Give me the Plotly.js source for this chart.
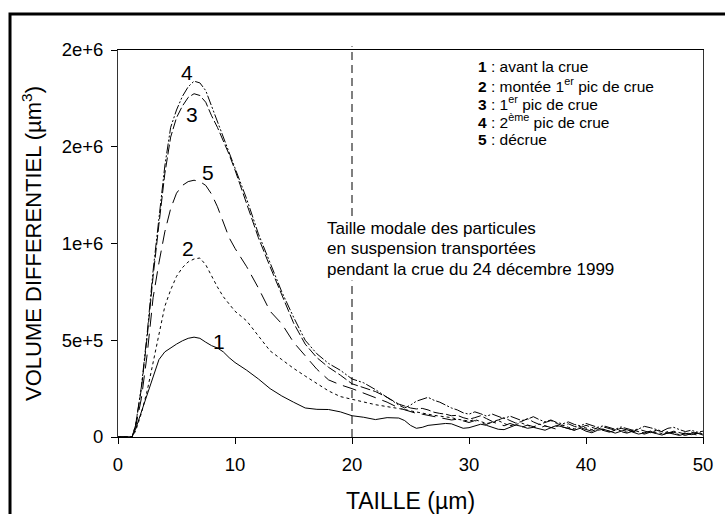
<!DOCTYPE html>
<html>
<head>
<meta charset="utf-8">
<script src="https://cdn.plot.ly/plotly-3.0.1.min.js"></script>
<style>html,body{margin:0;padding:0;background:#fff;}#chart{width:725px;height:514px;}</style>
</head>
<body>
<div id="chart"></div>
<script>
// Particle size (µm): main part of the grid, then the noisy tail
const sizeHead = [0,1.2,1.5,2,2.5,3,3.5,4,4.5,5,5.5,6,6.5,7,7.5,8,8.5,9,9.5,10,11,12,13,14,15,16,17,18,19,20,21,22,23,24];
const sizeTail = [24.5,25,25.5,26,26.5,27,27.5,28,28.5,29,29.5,30,30.5,31,31.5,32,32.5,33,33.5,34,34.5,35,35.5,36,36.5,37,37.5,38,38.5,39,39.5,40,40.5,41,41.5,42,42.5,43,43.5,44,44.5,45,45.5,46,46.5,47,47.5,48,48.5,49,49.5,50];

// Differential volume, in thousands of µm³
const vol1Head = [0,0,40,130,230,320,400,440,462,480,497,510,516,510,490,472,460,440,410,385,345,300,250,212,180,150,143,142,130,110,102,90,100,98];
const vol1Tail = [85,60,45,50,60,63,66,70,68,55,45,48,58,66,60,52,40,38,50,62,55,45,50,42,35,48,60,52,42,35,45,30,22,35,40,28,20,30,38,25,15,22,30,18,10,22,15,8,18,12,20,10];

const vol2Head = [0,0,30,123,240,390,540,675,760,830,875,905,920,925,890,830,775,725,685,650,600,520,445,400,355,315,275,238,209,195,180,167,157,148];
const vol2Tail = [142,135,128,122,118,112,108,104,100,92,88,82,90,78,70,75,85,70,58,65,72,60,52,66,58,48,55,62,50,42,55,45,38,48,40,30,38,32,25,35,28,20,30,25,18,28,20,12,22,15,25,15];

const vol3Head = [0,0,60,250,520,830,1100,1360,1550,1650,1710,1755,1774,1765,1730,1660,1600,1530,1460,1380,1200,1030,880,730,590,480,410,360,320,275,255,235,205,170];
const vol3Tail = [160,150,145,148,140,128,122,118,110,112,100,92,100,110,95,80,88,100,85,72,80,95,78,65,75,85,70,58,68,55,48,60,50,40,52,45,35,45,38,28,40,30,22,35,28,20,30,22,15,25,18,22];

const vol4Head = [0,0,60,260,540,860,1130,1400,1600,1690,1760,1810,1839,1830,1790,1710,1630,1550,1480,1390,1230,1050,900,750,620,500,430,380,345,300,280,245,205,165];
const vol4Tail = [150,165,185,195,205,190,180,165,150,140,125,118,130,120,108,118,105,95,108,98,85,92,105,90,78,88,75,68,78,65,58,70,60,50,58,48,40,52,45,35,42,55,48,38,30,45,50,38,28,35,25,30];

const vol5Head = [0,0,50,200,430,720,900,1060,1180,1260,1300,1320,1327,1320,1300,1255,1190,1110,1030,975,880,770,650,585,490,420,350,295,270,250,228,205,180,150];
const vol5Tail = [140,130,122,118,112,108,100,95,88,92,82,75,85,72,65,78,68,58,70,60,50,62,55,45,58,50,40,52,45,35,48,40,30,42,35,25,35,28,20,30,22,15,25,18,12,20,25,15,8,18,10,15];

const seriesNames = ["1","2","3","4","5"];
const legendLabels = [
  "<b>1</b> : avant la crue",
  "<b>2</b> : montée 1<sup>er</sup> pic de crue",
  "<b>3</b> : 1<sup>er</sup> pic de crue",
  "<b>4</b> : 2<sup>ème</sup> pic de crue",
  "<b>5</b> : décrue"
];
const noteLines = [
  "Taille modale des particules",
  "en suspension transportées",
  "pendant la crue du 24 décembre 1999"
];
// curve label anchors (size µm, volume in thousands)
const labelX = [8.6, 6.0, 6.3, 5.9, 7.7];
const labelY = [493, 972, 1667, 1882, 1365];

const yTickVals = [0, 500000, 1000000, 1500000, 2000000];
const yTickText = ["0", "5e+5", "1e+6", "2e+6", "2e+6"];
const xTickVals = [0, 10, 20, 30, 40, 50];
const modalSize = 20;

const sizes = sizeHead.concat(sizeTail);
const toUnits = arr => arr.map(v => v * 1000);
const vols = [
  toUnits(vol1Head.concat(vol1Tail)),
  toUnits(vol2Head.concat(vol2Tail)),
  toUnits(vol3Head.concat(vol3Tail)),
  toUnits(vol4Head.concat(vol4Tail)),
  toUnits(vol5Head.concat(vol5Tail))
];
const dashes = ["solid", "dot", "10px,3px", "10px,2px,2px,2px,2px,2px", "14px,7px"];

const traces = vols.map((v, i) => ({
  x: sizes, y: v, type: "scatter", mode: "lines", name: seriesNames[i],
  line: {color: "#000", width: 1, dash: dashes[i]}, showlegend: false
}));

const FONT = "Liberation Sans, Arial, sans-serif";
const annotations = [];
seriesNames.forEach((n, i) => {
  annotations.push({x: labelX[i], y: labelY[i] * 1000, xref: "x", yref: "y", text: n,
    showarrow: false, font: {family: FONT, size: 21, color: "#000"}});
});
legendLabels.forEach((t, i) => {
  annotations.push({x: 0.612, y: 0.958 - i * 0.0475, xref: "paper", yref: "paper", text: t,
    xanchor: "left", yanchor: "middle", align: "left", showarrow: false,
    font: {family: FONT, size: 15.5, color: "#000"}});
});
noteLines.forEach((t, i) => {
  annotations.push({x: 0.353, y: 0.5375 - i * 0.0517, xref: "paper", yref: "paper",
    xanchor: "left", yanchor: "middle", align: "left", text: t,
    showarrow: false, bgcolor: "#fff", borderpad: 1,
    font: {family: FONT, size: 17, color: "#000"}});
});

const layout = {
  width: 725, height: 514,
  margin: {l: 118, r: 22, t: 50, b: 77},
  paper_bgcolor: "#fff", plot_bgcolor: "#fff",
  font: {family: FONT, color: "#000"},
  xaxis: {
    range: [0, 50], tickvals: xTickVals, ticks: "outside", ticklen: 6, tickcolor: "#000",
    showline: true, linecolor: "#000", linewidth: 1, mirror: true, showgrid: false, zeroline: false,
    tickfont: {family: FONT, size: 18.5}, ticklabelstandoff: 5,
    title: {text: "TAILLE (µm)", font: {family: FONT, size: 23}, standoff: 19}
  },
  yaxis: {
    range: [0, 2000000], tickvals: yTickVals, ticktext: yTickText, ticks: "outside", ticklen: 6, tickcolor: "#000",
    showline: true, linecolor: "#333", linewidth: 1, mirror: true, showgrid: false, zeroline: false,
    tickfont: {family: FONT, size: 18.5}, ticklabelstandoff: 4,
    title: {text: "VOLUME DIFFERENTIEL (µm<sup>3</sup>)", font: {family: FONT, size: 22}, standoff: 13}
  },
  shapes: [
    {type: "line", xref: "x", yref: "paper", x0: modalSize, x1: modalSize, y0: 0, y1: 1.01,
     line: {color: "#555", width: 1.5, dash: "8px,5px"}, layer: "below"},
    {type: "rect", xref: "paper", yref: "paper", x0: -0.1846, x1: 1.05, y0: -0.22, y1: 1.093,
     line: {color: "#000", width: 3}}
  ],
  annotations: annotations
};

Plotly.newPlot("chart", traces, layout, {displayModeBar: false, staticPlot: true});
</script>
</body>
</html>
